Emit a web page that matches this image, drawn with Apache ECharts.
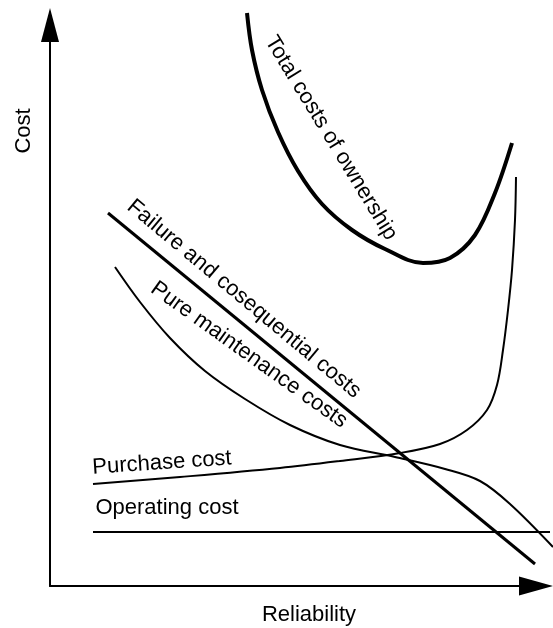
<!DOCTYPE html>
<html>
<head>
<meta charset="utf-8">
<script src="https://cdn.jsdelivr.net/npm/echarts@6/dist/echarts.min.js"></script>
<style>
html,body{margin:0;padding:0;background:#fff;}
#chart{width:553px;height:628px;}
</style>
</head>
<body>
<div id="chart"></div>
<script>
// Values (arbitrary units: reliability → x, cost → y)
var totalCost = [[197,573],[202,536],[212,496],[228,454],[248,415],[272,382],[302,356],[335,337],[373,323],[400,328],[425,351],[445,393],[462,443]];
var failureCost = [[58,373],[485,22]];
var maintenanceCost = [[65,319],[90,284],[120,248],[155,215],[195,187],[240,161],[290,141],[345,129],[395,117],[430,105],[460,82],[503,39]];
var purchaseCost = [[43,102],[130,109],[230,118],[290,125],[350,133],[390,142],[417,156],[437,176],[447,201],[453,236],[458,276],[462,316],[465,366],[466,409]];
var operatingCost = [[43,54],[500,54]];

var FONT = '22px "Liberation Sans", Arial, Helvetica, sans-serif';

var chart = echarts.init(document.getElementById('chart'), null, {renderer:'canvas'});

function lineSeries(name, data, width, smooth) {
  return {
    name: name, type: 'line', data: data, smooth: smooth,
    xAxisIndex: 1, yAxisIndex: 1,
    showSymbol: false, symbol: 'none', clip: false, silent: true,
    lineStyle: {color: '#000', width: width, cap: 'butt', join: 'round'},
    z: 3
  };
}

function label(text, x, y, rot) {
  return {
    type: 'text', x: x, y: y, rotation: rot, silent: true,
    style: {text: text, font: FONT, fill: '#000', align: 'center', verticalAlign: 'middle', textAlign: 'center', textVerticalAlign: 'middle'}
  };
}

var axisLineStyle = {color: '#000', width: 2};
var hidden = {axisLine: {show: false}, axisTick: {show: false}, axisLabel: {show: false}, splitLine: {show: false}};

chart.setOption({
  animation: false,
  backgroundColor: '#fff',
  grid: [
    {left: 50, right: 33, top: 42, bottom: 42, containLabel: false},
    {left: 50, right: 0, top: 0, bottom: 42, containLabel: false}
  ],
  xAxis: [
    {
      type: 'value', gridIndex: 0, min: 0, max: 470,
      axisLine: {show: true, onZero: false, lineStyle: axisLineStyle, symbol: ['none', 'triangle'], symbolSize: [19, 34], symbolOffset: [0, 16]},
      axisTick: {show: false}, axisLabel: {show: false}, splitLine: {show: false}
    },
    Object.assign({type: 'value', gridIndex: 1, min: 0, max: 503}, hidden)
  ],
  yAxis: [
    {
      type: 'value', gridIndex: 0, min: 0, max: 544,
      axisLine: {show: true, onZero: false, lineStyle: axisLineStyle, symbol: ['none', 'triangle'], symbolSize: [18, 34], symbolOffset: [0, 17]},
      axisTick: {show: false}, axisLabel: {show: false}, splitLine: {show: false}
    },
    Object.assign({type: 'value', gridIndex: 1, min: 0, max: 586}, hidden)
  ],
  series: [
    lineSeries('Total costs of ownership', totalCost, 4, 0.35),
    lineSeries('Failure and cosequential costs', failureCost, 3, false),
    lineSeries('Pure maintenance costs', maintenanceCost, 2, 0.35),
    lineSeries('Purchase cost', purchaseCost, 2, 0.35),
    lineSeries('Operating cost', operatingCost, 2, false)
  ],
  graphic: [
    label('Cost', 24, 131, Math.PI / 2),
    label('Reliability', 309, 615, 0),
    label('Total costs of ownership', 331, 138, -1.023),
    label('Failure and cosequential costs', 244, 299, -0.695),
    label('Pure maintenance costs', 249, 355, -0.62),
    label('Purchase cost', 162, 463, 0.066),
    label('Operating cost', 167, 508, 0)
  ]
});
</script>
</body>
</html>
